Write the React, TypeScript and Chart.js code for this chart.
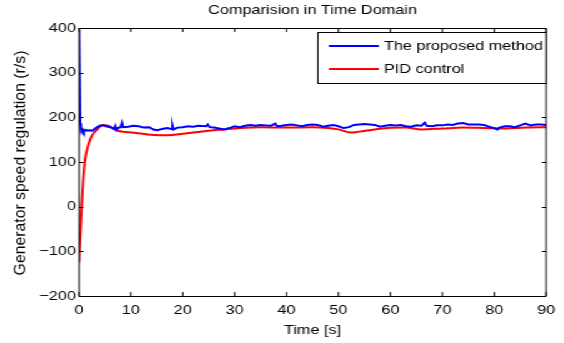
import React, { useEffect, useRef } from "react";
import { Chart, registerables } from "chart.js";

Chart.register(...registerables);

const titleText = "Comparision in Time Domain";
const xTitle = "Time [s]";
const yTitle = "Generator speed regulation (r/s)";
const seriesLabels = ["The proposed method", "PID control"];
const seriesColors = ["#0000ff", "#ff0000"];
const xTicks = [0, 10, 20, 30, 40, 50, 60, 70, 80, 90];
const yTicks = [-200, -100, 0, 100, 200, 300, 400];

const proposedT = [0, 0.12, 0.2, 0.35, 0.5, 0.7, 0.9, 1.2, 1.6, 2.0, 2.5, 3.0, 3.5, 4.0, 4.6, 5.2, 6.0, 6.8, 7.0, 7.2, 7.5, 8.0, 8.3, 8.5, 9.5, 10.5, 11.5, 12.5, 13.5, 14.5, 15.2, 16, 17, 17.8, 18, 18.2, 19, 20, 21, 22, 23, 24.5, 24.8, 25.2, 26, 27, 28, 29, 30, 31, 32, 33, 34, 35, 36, 37, 37.8, 38.2, 39, 40, 41, 42, 43, 44, 45, 46, 47, 48, 49, 50, 51, 52, 53, 54, 55, 56, 57, 58, 59, 60, 61, 62, 63, 64, 65, 66, 66.6, 67, 68, 69, 70, 71, 72, 73, 74, 75, 76, 77, 78, 79, 80, 80.6, 81, 82, 83, 84, 85, 86, 87, 88, 89, 90];
const proposedV = [400, 400, 187, 178, 168, 172, 167, 172, 170, 171, 170, 174, 178, 181, 182, 180, 178, 174, 180, 172, 176, 178, 188, 178, 179, 181, 180, 177, 178, 172, 171, 174, 176, 174, 182, 173, 177, 178, 180, 179, 181, 180, 184, 178, 177, 175, 173, 176, 180, 178, 181, 183, 181, 183, 182, 181, 186, 180, 181, 183, 184, 182, 180, 183, 184, 183, 179, 181, 183, 180, 176, 178, 183, 184, 185, 184, 183, 179, 181, 183, 182, 183, 180, 179, 182, 181, 188, 181, 180, 182, 182, 184, 183, 186, 187, 184, 184, 184, 183, 179, 176, 173, 177, 180, 180, 178, 182, 186, 182, 184, 184, 183];

const pidT = [0, 0.2, 0.5, 0.8, 1.15, 1.6, 2.1, 2.7, 3.4, 4.0, 4.6, 5.5, 7.5, 9, 11, 13, 15.5, 17, 20, 23, 25, 28, 30, 33, 35, 40, 45, 48, 50, 52.4, 54, 57, 59.4, 63, 66, 70, 74, 78, 82, 86, 90];
const pidV = [-125, -70, 0, 60, 104, 130, 149, 163, 172, 179, 183, 182, 170, 167, 165, 162, 160, 160, 163, 167, 170, 173, 175, 177, 178, 177, 178, 176, 173, 166, 168, 173, 176, 177, 173, 175, 177, 176, 175, 177, 178];

const SX = 1.25;
const W = 564 / SX;
const H = 343;
const PLOT_L = 79 / SX;
const PLOT_R = 548 / SX;
const PLOT_T = 28;
const PLOT_B = 296;
const FAMILY = "'Liberation Sans', Arial, sans-serif";
const FONT = "13px " + FAMILY;

const decor = {
  id: "decor",
  afterDraw(chart: any) {
    const ctx = chart.ctx;
    const { left, right, top, bottom } = chart.chartArea;
    const xs = chart.scales.x;
    const ys = chart.scales.y;
    ctx.save();
    ctx.strokeStyle = "#000";
    ctx.lineWidth = 1;
    ctx.beginPath();
    ctx.rect(left, Math.round(top) + 0.5, right - left, Math.round(bottom) - Math.round(top));
    ctx.stroke();
    ctx.beginPath();
    for (const v of xTicks) {
      const px = xs.getPixelForValue(v);
      ctx.moveTo(px, bottom);
      ctx.lineTo(px, bottom - 4);
      ctx.moveTo(px, top);
      ctx.lineTo(px, top + 4);
    }
    for (const v of yTicks) {
      const py = Math.round(ys.getPixelForValue(v)) + 0.5;
      ctx.moveTo(left, py);
      ctx.lineTo(left + 3.5, py);
      ctx.moveTo(right, py);
      ctx.lineTo(right - 3.5, py);
    }
    ctx.stroke();

    ctx.fillStyle = "#000";
    ctx.font = FONT;
    ctx.textAlign = "center";
    ctx.textBaseline = "middle";
    const cx = (left + right) / 2;
    ctx.fillText(titleText, cx, 10);
    ctx.fillText(xTitle, cx, 330);
    ctx.save();
    ctx.translate(21 / SX, (top + bottom) / 2 + 1);
    ctx.scale(1 / SX, 1);
    ctx.rotate(-Math.PI / 2);
    ctx.font = "15.8px " + FAMILY;
    ctx.fillText(yTitle, 0, 0);
    ctx.restore();

    // legend
    const lx0 = 318 / SX;
    const lx1 = right;
    const ly0 = 32.5;
    const ly1 = 83.5;
    ctx.fillStyle = "#fff";
    ctx.fillRect(lx0, ly0, lx1 - lx0, ly1 - ly0);
    ctx.strokeStyle = "#000";
    ctx.lineWidth = 1;
    ctx.strokeRect(lx0, ly0, lx1 - lx0, ly1 - ly0);
    ctx.font = FONT;
    seriesLabels.forEach((lab, i) => {
      const y = 46 + 23 * i;
      ctx.strokeStyle = seriesColors[i];
      ctx.lineWidth = 2;
      ctx.beginPath();
      ctx.moveTo(329 / SX, y);
      ctx.lineTo(379 / SX, y);
      ctx.stroke();
      ctx.fillStyle = "#000";
      ctx.textAlign = "left";
      ctx.textBaseline = "middle";
      ctx.fillText(lab, 384 / SX, y);
    });
    ctx.restore();
  },
};

export default function App() {
  const ref = useRef<HTMLCanvasElement | null>(null);
  useEffect(() => {
    document.body.style.margin = "0";
    const canvas = ref.current;
    if (!canvas) return;
    const chart = new Chart(canvas, {
      type: "line",
      data: {
        datasets: [
          {
            label: seriesLabels[0],
            data: proposedT.map((t, i) => ({ x: t, y: proposedV[i] })),
            borderColor: seriesColors[0],
            borderWidth: 2,
            pointRadius: 0,
            tension: 0,
          },
          {
            label: seriesLabels[1],
            data: pidT.map((t, i) => ({ x: t, y: pidV[i] })),
            borderColor: seriesColors[1],
            borderWidth: 2,
            pointRadius: 0,
            cubicInterpolationMode: "monotone",
          },
        ],
      },
      options: {
        animation: false,
        responsive: true,
        maintainAspectRatio: false,
        devicePixelRatio: 1,
        layout: { padding: { left: 0, right: W - PLOT_R, top: PLOT_T, bottom: 0 } },
        plugins: { legend: { display: false }, title: { display: false }, tooltip: { enabled: false } },
        scales: {
          x: {
            type: "linear",
            min: 0,
            max: 90,
            grid: { display: false, drawTicks: false },
            border: { display: false },
            afterBuildTicks: (s: any) => {
              s.ticks = xTicks.map((v) => ({ value: v }));
            },
            afterFit: (s: any) => {
              s.height = H - PLOT_B;
            },
            ticks: {
              color: "#000",
              font: { family: FAMILY, size: 13 },
              padding: 7,
              maxRotation: 0,
              autoSkip: false,
            },
          },
          y: {
            type: "linear",
            min: -200,
            max: 400,
            grid: { display: false, drawTicks: false },
            border: { display: false },
            afterBuildTicks: (s: any) => {
              s.ticks = yTicks.map((v) => ({ value: v }));
            },
            afterFit: (s: any) => {
              s.width = PLOT_L;
            },
            ticks: {
              color: "#000",
              font: { family: FAMILY, size: 13 },
              padding: 2.5,
              autoSkip: false,
              callback: (v: any) => (Number(v) < 0 ? "\u2212" + Math.abs(Number(v)) : String(v)),
            },
          },
        },
      },
      plugins: [decor],
    });
    return () => chart.destroy();
  }, []);
  return (
    <div
      style={{
        position: "fixed",
        left: 0,
        top: 0,
        width: W,
        height: H,
        transform: `scale(${SX}, 1)`,
        transformOrigin: "0 0",
        background: "#fff",
      }}
    >
      <canvas ref={ref} />
    </div>
  );
}
